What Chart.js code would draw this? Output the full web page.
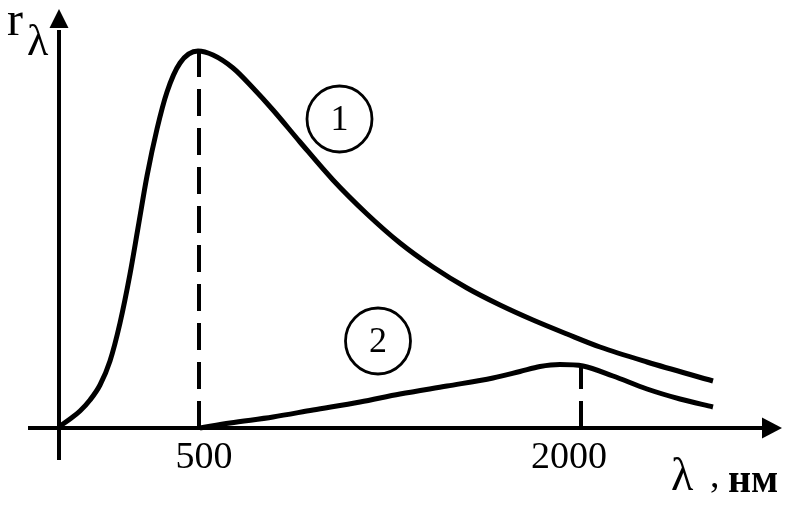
<!DOCTYPE html>
<html>
<head>
<meta charset="utf-8">
<script src="https://cdn.jsdelivr.net/npm/chart.js@4.4.1/dist/chart.umd.min.js"></script>
<style>
  html, body { margin:0; padding:0; background:#fff; }
  #wrap { width:808px; height:515px; position:relative; }
</style>
</head>
<body>
<div id="wrap"><canvas id="grafico"></canvas></div>
<script>
// unidades arbitrarias del esquema (eje x: λ, eje y: r_λ)
const curva1X = [0.1, 1.1, 2.1, 3.1, 4.1, 5.1, 6.1, 7.1, 7.9, 8.8, 9.8, 10.8, 12.1, 13.9, 15.4, 17.4, 19.4, 21.4, 24.1, 27.4, 30.8, 34.1, 37.4, 40.8, 44.1, 47.4, 50.8, 54.1, 58.8, 65.4];
const curva1Y = [0.2, 0.9, 1.7, 2.8, 4.3, 6.7, 10.5, 15.4, 20.0, 25.2, 29.9, 33.6, 36.5, 37.7, 37.3, 36.0, 34.0, 31.8, 28.6, 24.8, 21.4, 18.5, 16.1, 14.0, 12.3, 10.8, 9.4, 8.1, 6.6, 4.7];
const curva2X = [14.1, 17.1, 21.4, 25.4, 30.1, 34.1, 38.8, 43.4, 46.1, 48.1, 50.1, 52.4, 55.4, 58.8, 62.1, 65.4];
const curva2Y = [0, 0.5, 1.1, 1.8, 2.6, 3.4, 4.2, 5.0, 5.65, 6.15, 6.35, 6.2, 5.2, 3.9, 2.9, 2.1];

const maximosX = [14.0, 52.2];          // líneas de trazos (λ max)
const maximosY = [37.6, 6.2];
const ticksTexto = ["500", "2000"];
const ticksX     = [14.5, 51.0];        // centro de cada rótulo
const marcasTexto = ["1", "2"];         // números en círculo
const marcasX = [28.05, 31.9];
const marcasY = [30.9, 8.7];

const NEGRO = "#000";
const SERIF = "'Liberation Serif', 'DejaVu Serif', serif";

const puntos = (xs, ys) => xs.map((x, i) => ({ x, y: ys[i] }));

// ── Ejes con flecha ───────────────────────────────────────────────────────
const ejesPlugin = {
  id: "ejes",
  beforeDatasetsDraw(chart) {
    const { ctx, scales: { x, y } } = chart;
    const x0 = x.getPixelForValue(0), y0 = y.getPixelForValue(0);
    ctx.save();
    ctx.strokeStyle = NEGRO; ctx.fillStyle = NEGRO; ctx.lineWidth = 4;
    ctx.beginPath();
    ctx.moveTo(x.getPixelForValue(-3.1), y0); ctx.lineTo(x.getPixelForValue(70.6), y0);
    ctx.moveTo(x0, y.getPixelForValue(-3.2)); ctx.lineTo(x0, y.getPixelForValue(39.8));
    ctx.stroke();
    // flecha x
    const xt = x.getPixelForValue(72.3);
    ctx.beginPath();
    ctx.moveTo(xt, y0); ctx.lineTo(xt - 20, y0 - 10.5); ctx.lineTo(xt - 20, y0 + 10.5); ctx.closePath(); ctx.fill();
    // flecha y
    const yt = y.getPixelForValue(41.9);
    ctx.beginPath();
    ctx.moveTo(x0, yt); ctx.lineTo(x0 - 9.5, yt + 19); ctx.lineTo(x0 + 9.5, yt + 19); ctx.closePath(); ctx.fill();
    ctx.restore();
  },
  afterDraw(chart) {
    const { ctx, scales: { x, y } } = chart;
    const y0 = y.getPixelForValue(0);
    ctx.save();
    ctx.fillStyle = NEGRO; ctx.strokeStyle = NEGRO;
    // rótulos del eje x
    ctx.font = `38px ${SERIF}`;
    ctx.textAlign = "center"; ctx.textBaseline = "alphabetic";
    ticksTexto.forEach((t, i) => ctx.fillText(t, x.getPixelForValue(ticksX[i]), y0 + 40));
    // λ , нм
    ctx.textAlign = "left";
    ctx.font = `46px ${SERIF}`;
    ctx.fillText("λ", 671, 490);
    ctx.font = `38px ${SERIF}`;
    ctx.fillText(",", 710, 487);
    ctx.font = `bold 40px ${SERIF}`;
    ctx.fillText("нм", 728, 492);
    // r_λ
    ctx.font = `48px ${SERIF}`;
    ctx.fillText("r", 7, 35);
    ctx.font = `44px ${SERIF}`;
    ctx.fillText("λ", 27, 55);
    // números en círculo
    ctx.lineWidth = 2.8;
    ctx.textAlign = "center"; ctx.textBaseline = "alphabetic";
    marcasTexto.forEach((t, i) => {
      const cx = x.getPixelForValue(marcasX[i]), cy = y.getPixelForValue(marcasY[i]);
      ctx.beginPath(); ctx.ellipse(cx, cy, 32.5, 33, 0, 0, Math.PI * 2); ctx.stroke();
      ctx.font = `36px ${SERIF}`;
      ctx.fillText(t, cx, cy + 11);
    });
    ctx.restore();
  }
};

new Chart(document.getElementById("grafico"), {
  type: "line",
  data: {
    datasets: [
      { data: puntos(curva1X, curva1Y), borderColor: NEGRO, borderWidth: 5, cubicInterpolationMode: "monotone", pointRadius: 0, clip: false },
      { data: puntos(curva2X, curva2Y), borderColor: NEGRO, borderWidth: 5, cubicInterpolationMode: "monotone", pointRadius: 0, clip: false },
      ...maximosX.map((mx, i) => ({
        data: [{ x: mx, y: 0 }, { x: mx, y: maximosY[i] }],
        borderColor: NEGRO, borderWidth: 4, borderDash: [27, 12], pointRadius: 0, clip: false
      }))
    ]
  },
  options: {
    responsive: true, maintainAspectRatio: false, animation: false,
    layout: { padding: { left: 59, right: 29, top: 10, bottom: 87 } },
    scales: {
      x: { type: "linear", min: 0, max: 72, display: false },
      y: { type: "linear", min: 0, max: 41.8, display: false }
    },
    plugins: { legend: { display: false }, tooltip: { enabled: false } }
  },
  plugins: [ejesPlugin]
});
</script>
</body>
</html>
